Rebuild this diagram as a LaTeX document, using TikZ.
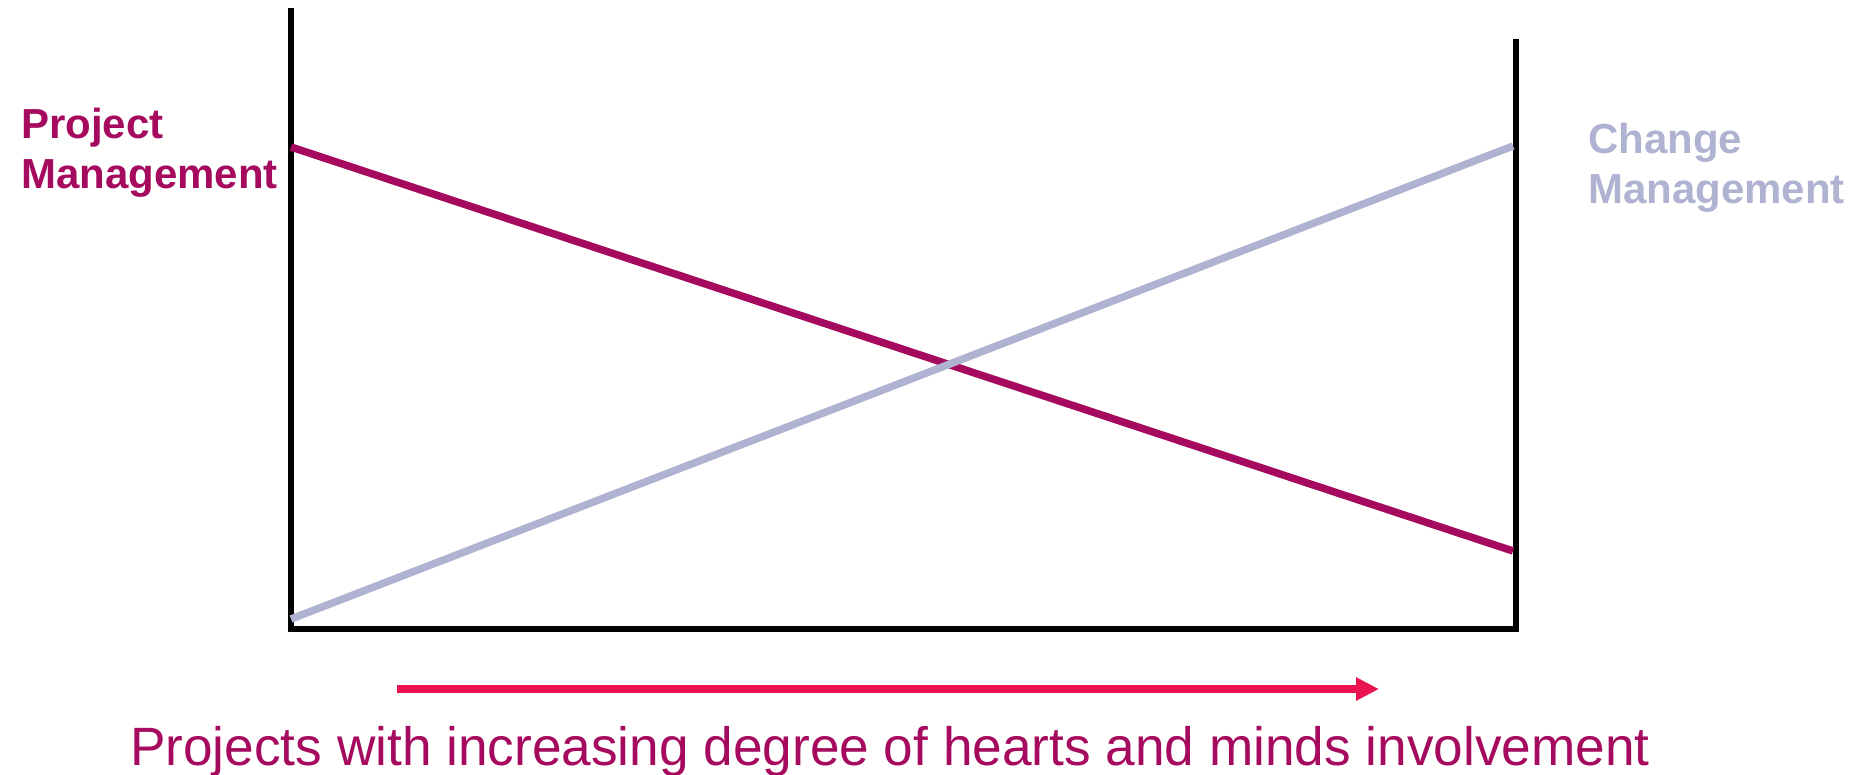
\documentclass[tikz,border=0pt]{standalone}
\usepackage{fontspec}
\setmainfont{Liberation Sans}
\usetikzlibrary{arrows.meta}
\definecolor{pmcol}{RGB}{166,10,94}
\definecolor{cmcol}{RGB}{176,178,210}
\definecolor{arrcol}{RGB}{234,20,80}
\begin{document}
\begin{tikzpicture}[x=1pt,y=-1pt,
  axis/.style={line width=6pt,black},
  trend/.style={line width=7.5pt},
  lbl/.style={inner sep=0pt,font=\bfseries\fontsize{42}{50}\selectfont,align=left}]
\useasboundingbox (0,0) rectangle (1864,774);
% axes
\coordinate (lt) at (291,8);
\coordinate (lb) at (291,629);
\coordinate (rt) at (1516,39);
\coordinate (rb) at (1516,629);
\draw[axis] (lt) -- (lb);
\draw[axis] (rt) -- (rb);
\draw[axis] (288,629) -- (1519,629);
% trend lines
\coordinate (pm1) at (291,147);
\coordinate (pm2) at (1513,551);
\coordinate (cm1) at (291,619);
\coordinate (cm2) at (1513,146);
\draw[trend,pmcol] (pm1) -- (pm2);
\draw[trend,cmcol] (cm1) -- (cm2);
% labels
\node[lbl,text=pmcol,anchor=base west] (pm) at (21,188) {Project\\Management};
\node[lbl,text=cmcol,anchor=base west] (cm) at (1588,203) {Change\\Management};
% arrow
\coordinate (a1) at (397,689);
\coordinate (a2) at (1379,689);
\draw[line width=8pt,arrcol,-{Triangle[length=23pt,width=22pt]}] (a1) -- (a2);
\node[inner sep=0pt,anchor=base west,text=pmcol,font=\fontsize{54}{60}\selectfont] (cap) at (130,765) {\scalebox{0.985}[1]{Projects with increasing degree of hearts and minds involvement}};
\end{tikzpicture}
\end{document}
